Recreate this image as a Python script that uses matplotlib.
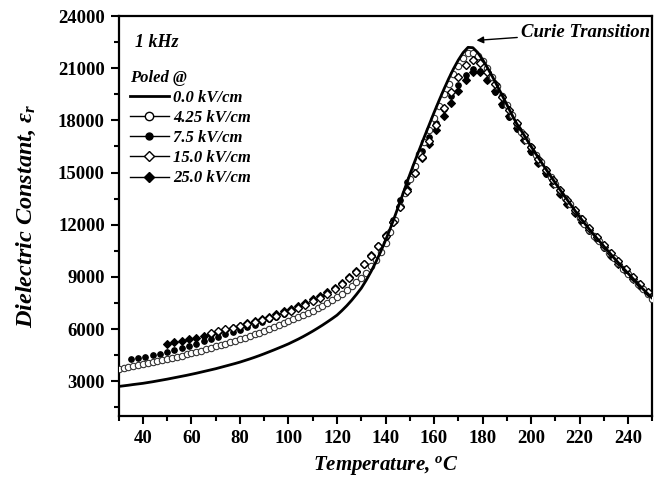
import matplotlib
matplotlib.use("Agg")
import matplotlib.pyplot as plt
from matplotlib.lines import Line2D
from matplotlib.ticker import MultipleLocator

plt.rcParams['font.family'] = ['Liberation Serif', 'DejaVu Serif']
plt.rcParams['mathtext.fontset'] = 'custom'
plt.rcParams['mathtext.rm'] = 'Liberation Serif:bold:italic'
plt.rcParams['mathtext.it'] = 'Liberation Serif:bold:italic'
plt.rcParams['mathtext.bf'] = 'Liberation Serif:bold:italic'

# ---------------- data ----------------
# 0.0 kV/cm (solid line), T = 30..250 step 2
t_00 = list(range(30, 251, 2))
eps_00 = [2700, 2735, 2770, 2810, 2845, 2880, 2925, 2970, 3020, 3070,
          3120, 3175, 3230, 3285, 3340, 3400, 3460, 3525, 3590, 3655,
          3720, 3795, 3870, 3945, 4020, 4100, 4190, 4280, 4375, 4475,
          4580, 4690, 4800, 4915, 5030, 5150, 5285, 5420, 5565, 5720,
          5880, 6050, 6225, 6410, 6600, 6800, 7060, 7340, 7650, 7990,
          8350, 8800, 9300, 9850, 10450, 11100, 11800, 12550, 13320, 14100,
          14880, 15620, 16340, 17050, 17750, 18450, 19120, 19770, 20390, 20960,
          21470, 21900, 22200, 22180, 21900, 21500, 21030, 20530, 20000, 19460,
          18910, 18350, 17830, 17400, 16950, 16500, 16070, 15640, 15220, 14810,
          14400, 14000, 13610, 13220, 12830, 12450, 12090, 11740, 11400, 11080,
          10760, 10440, 10120, 9810, 9500, 9200, 8900, 8610, 8320, 8040, 7770]

# 4.25 kV/cm (open circles), T = 30..250 step 2
t_425 = list(range(30, 251, 2))
eps_425 = [3730, 3780, 3830, 3880, 3935, 3990, 4045, 4100, 4160, 4220,
           4280, 4345, 4410, 4475, 4545, 4615, 4690, 4765, 4840, 4920,
           5000, 5080, 5160, 5240, 5320, 5400, 5495, 5590, 5690, 5790,
           5890, 5995, 6100, 6215, 6330, 6450, 6570, 6690, 6810, 6935,
           7060, 7200, 7345, 7500, 7665, 7840, 8030, 8230, 8450, 8690,
           8950, 9250, 9600, 10000, 10450, 10950, 11600, 12300, 13050, 13850,
           14650, 15350, 16050, 16750, 17450, 18150, 18850, 19500, 20100, 20650,
           21150, 21600, 21900, 21900, 21700, 21400, 21000, 20500, 19970, 19420,
           18870, 18310, 17770, 17330, 16890, 16450, 16020, 15590, 15170, 14760,
           14350, 13950, 13560, 13170, 12790, 12410, 12050, 11700, 11360, 11040,
           10720, 10400, 10090, 9780, 9480, 9180, 8890, 8600, 8310, 8030, 7750]

# 7.5 kV/cm (filled circles), T = 35..248 step 3
t_75 = list(range(35, 249, 3))
eps_75 = [4250, 4330, 4410, 4500, 4590, 4690, 4800, 4920, 5040, 5160,
          5290, 5420, 5550, 5690, 5830, 5970, 6110, 6250, 6400, 6560,
          6720, 6880, 7050, 7230, 7420, 7620, 7840, 8080, 8340, 8620,
          8940, 9300, 9720, 10200, 10750, 11300, 12300, 13400, 14450, 15400,
          16250, 17050, 17850, 18650, 19400, 20050, 20600, 20950, 20850, 20350,
          19650, 18900, 18200, 17500, 16850, 16200, 15550, 14930, 14330, 13760,
          13210, 12680, 12160, 11660, 11170, 10690, 10220, 9760, 9320, 8890,
          8470, 8060]

# 15.0 kV/cm (open diamonds), T = 68..248 step 3
t_150 = list(range(68, 249, 3))
eps_150 = [5780, 5880, 5980, 6080, 6180, 6290, 6400, 6520, 6640, 6770,
           6910, 7060, 7220, 7400, 7590, 7800, 8030, 8290, 8580, 8910,
           9290, 9720, 10210, 10760, 11380, 12150, 13000, 13950, 15000, 15900,
           16800, 17750, 18700, 19650, 20500, 21200, 21500, 21300, 20800, 20100,
           19350, 18600, 17850, 17150, 16450, 15800, 15170, 14560, 13980, 13410,
           12860, 12330, 11810, 11310, 10820, 10350, 9890, 9440, 9000, 8570,
           8150]

# 25.0 kV/cm (filled diamonds), T = 50..248 step 3
t_250 = list(range(50, 249, 3))
eps_250 = [5150, 5230, 5310, 5400, 5500, 5600, 5720, 5840, 5960, 6080,
           6200, 6320, 6450, 6580, 6720, 6860, 7010, 7160, 7330, 7510,
           7700, 7910, 8140, 8390, 8670, 8990, 9350, 9770, 10250, 10800,
           11400, 12150, 13050, 14050, 15000, 15850, 16650, 17450, 18250, 19000,
           19700, 20300, 20800, 20800, 20350, 19700, 18950, 18250, 17550, 16880,
           16220, 15570, 14950, 14350, 13770, 13220, 12690, 12170, 11670, 11180,
           10700, 10230, 9770, 9330, 8900, 8480, 8070]

labels = ['0.0 kV/cm', '4.25 kV/cm', '7.5 kV/cm', '15.0 kV/cm', '25.0 kV/cm']
x_ticks = [40, 60, 80, 100, 120, 140, 160, 180, 200, 220, 240]
y_ticks = [3000, 6000, 9000, 12000, 15000, 18000, 21000, 24000]

# ---------------- plot ----------------
fig = plt.figure(figsize=(6.63, 4.79), dpi=100)
ax = fig.add_axes([0.179, 0.1315, 0.805, 0.835])

ax.plot(t_00, eps_00, '-', color='black', lw=2.0, zorder=5)
ax.plot(t_75, eps_75, 'o', ls='none', ms=4.0, mfc='black', mec='black', mew=0.8, zorder=3)
ax.plot(t_250, eps_250, 'D', ls='none', ms=3.8, mfc='black', mec='black', mew=0.8, zorder=3)
ax.plot(t_425, eps_425, 'o', ls='none', ms=4.6, mfc='white', mec='#333333', mew=0.8, zorder=4)
ax.plot(t_150, eps_150, 'D', ls='none', ms=4.4, mfc='white', mec='black', mew=1.0, zorder=4)

ax.set_xlim(30, 250)
ax.set_ylim(1000, 24000)
ax.set_xticks(x_ticks)
ax.set_yticks(y_ticks)
ax.xaxis.set_minor_locator(MultipleLocator(10))
ax.yaxis.set_minor_locator(MultipleLocator(1500))
ax.tick_params(which='both', direction='out', top=False, right=False,
               width=1.5, color='black')
ax.tick_params(which='major', length=6, labelsize=13.5, pad=4)
ax.tick_params(which='minor', length=3.5)
for lab in ax.get_xticklabels() + ax.get_yticklabels():
    lab.set_fontweight('bold')
for sp in ax.spines.values():
    sp.set_linewidth(1.6)

ax.set_xlabel('Temperature, $^{o}$C', fontsize=15, fontweight='bold',
              fontstyle='italic', labelpad=5)
ax.set_ylabel(r'Dielectric Constant, $\varepsilon_r$', fontsize=17.5,
              fontweight='bold', fontstyle='italic', labelpad=14)

ax.text(0.03, 0.935, '1 kHz', transform=ax.transAxes, fontsize=13,
        fontweight='bold', fontstyle='italic', va='center', ha='left')

ax.annotate('Curie Transition', xy=(177.5, 22600), xytext=(196, 23050),
            fontsize=13.5, fontweight='bold', fontstyle='italic',
            ha='left', va='center',
            arrowprops=dict(arrowstyle='-|>', color='black', lw=1.0,
                            mutation_scale=10, shrinkA=1, shrinkB=0))

handles = [
    Line2D([], [], color='black', lw=2.0),
    Line2D([], [], color='black', lw=1.0, marker='o', ms=6, mfc='white', mec='black'),
    Line2D([], [], color='black', lw=1.0, marker='o', ms=5, mfc='black', mec='black'),
    Line2D([], [], color='black', lw=1.0, marker='D', ms=5.5, mfc='white', mec='black'),
    Line2D([], [], color='black', lw=1.0, marker='D', ms=5.5, mfc='black', mec='black'),
]
leg = ax.legend(handles, labels, title='Poled @', loc='upper left',
                bbox_to_anchor=(0.021, 0.866), frameon=False, borderpad=0,
                borderaxespad=0,
                handlelength=2.35, handletextpad=0.25, labelspacing=0.25,
                prop={'weight': 'bold', 'style': 'italic', 'size': 12},
                title_fontproperties={'weight': 'bold', 'style': 'italic', 'size': 12})
leg._legend_box.align = 'left'

fig.savefig('out.png', dpi=100)
